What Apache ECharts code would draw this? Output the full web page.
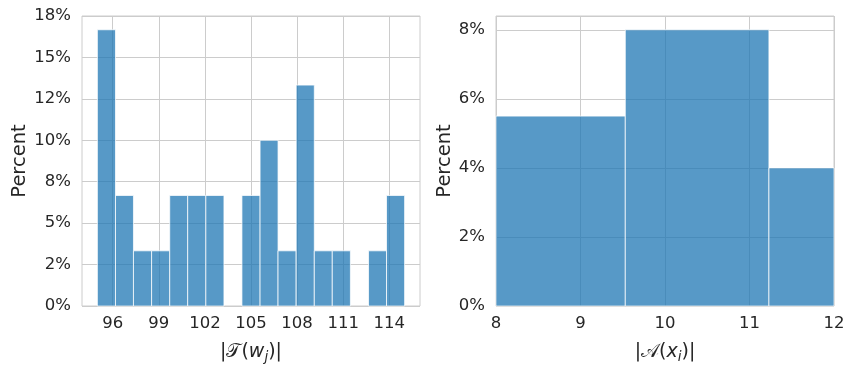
<!DOCTYPE html>
<html><head><meta charset="utf-8">
<script src="https://cdn.jsdelivr.net/npm/echarts@6/dist/echarts.min.js"></script>
<style>html,body{margin:0;padding:0;background:#fff}#c{width:854px;height:374px}</style>
</head><body><div id="c"></div>
<script>
// Left histogram: bin edges and percent heights
const leftEdges = [95.00, 96.18, 97.35, 98.53, 99.71, 100.88, 102.06, 103.24, 104.41, 105.59, 106.76, 107.94, 109.12, 110.29, 111.47, 112.65, 113.82, 115.00];
const leftPercent = [16.67, 6.67, 3.33, 3.33, 6.67, 6.67, 6.67, 0, 6.67, 10.00, 3.33, 13.33, 3.33, 3.33, 0, 3.33, 6.67];
const leftXTicks = [96, 99, 102, 105, 108, 111, 114];
const leftYTicks = [0, 2.5, 5, 7.5, 10, 12.5, 15, 17.5];
const leftYLabels = ['0%', '2%', '5%', '8%', '10%', '12%', '15%', '18%'];

// Right histogram
const rightEdges = [7.83, 9.53, 11.23, 12.93];
const rightPercent = [5.5, 8.0, 4.0];
const rightXTicks = [8, 9, 10, 11, 12];
const rightYLabels = ['0%', '2%', '4%', '6%', '8%'];

const textColor = '#262626';
const gridColor = '#cccccc';
const font = 'DejaVu Sans';

function binsData(edges, vals) {
  return vals.map((v, i) => [edges[i], edges[i + 1], v]);
}

function renderBin(params, api) {
  const x0 = api.value(0), x1 = api.value(1), y = api.value(2);
  if (!(y > 0)) return null;
  const p0 = api.coord([x0, y]);
  const p1 = api.coord([x1, 0]);
  const cs = params.coordSys;
  const rect = echarts.graphic.clipRectByRect(
    {x: p0[0], y: p0[1], width: p1[0] - p0[0], height: p1[1] - p0[1]},
    {x: cs.x, y: cs.y, width: cs.width, height: cs.height});
  if (!rect) return null;
  return {
    type: 'rect', shape: rect,
    style: {fill: '#1f77b4', stroke: '#ffffff', lineWidth: 1, opacity: 0.75}
  };
}

const axisNameRich = {
  a: {fontFamily: font, fontSize: 19, color: textColor},
  c: {fontFamily: font, fontSize: 19, color: textColor},
  i: {fontFamily: font, fontStyle: 'italic', fontSize: 19, color: textColor},
  s: {fontFamily: font, fontStyle: 'italic', fontSize: 13.5, color: textColor, padding: [10, 0, 0, 0]}
};

const chart = echarts.init(document.getElementById('c'), null, {renderer: 'canvas'});
chart.setOption({
  animation: false,
  backgroundColor: '#ffffff',
  grid: [
    {left: 82, top: 16, width: 338, height: 290, show: true, borderColor: gridColor, borderWidth: 1, containLabel: false},
    {left: 496, top: 16, width: 338, height: 290, show: true, borderColor: gridColor, borderWidth: 1, containLabel: false}
  ],
  xAxis: [
    {
      type: 'value', gridIndex: 0, min: 94, max: 116,
      axisLine: {show: false}, axisTick: {show: false, customValues: leftXTicks},
      splitLine: {show: true, lineStyle: {color: gridColor, width: 1}},
      axisLabel: {customValues: leftXTicks, color: textColor, fontFamily: font, fontSize: 16.5, margin: 9},
      name: '{a||}{c|𝒯}{a|(}{i|w}{s|j}{a|)|}', nameLocation: 'middle', nameGap: 34,
      nameTextStyle: {rich: axisNameRich}
    },
    {
      type: 'value', gridIndex: 1, min: 8, max: 12, interval: 1,
      axisLine: {show: false}, axisTick: {show: false},
      splitLine: {show: true, lineStyle: {color: gridColor, width: 1}},
      axisLabel: {color: textColor, fontFamily: font, fontSize: 16.5, margin: 9},
      name: '{a||}{c|𝒜}{a|(}{i|x}{s|i}{a|)|}', nameLocation: 'middle', nameGap: 34,
      nameTextStyle: {rich: axisNameRich}
    }
  ],
  yAxis: [
    {
      type: 'value', gridIndex: 0, min: 0, max: 17.5, interval: 2.5,
      axisLine: {show: false}, axisTick: {show: false},
      splitLine: {show: true, lineStyle: {color: gridColor, width: 1}},
      axisLabel: {color: textColor, fontFamily: font, fontSize: 16.5, margin: 11,
        formatter: v => leftYLabels[Math.round(v / 2.5)]},
      name: 'Percent', nameLocation: 'middle', nameGap: 52,
      nameTextStyle: {color: textColor, fontFamily: font, fontSize: 19.5}
    },
    {
      type: 'value', gridIndex: 1, min: 0, max: 8.4, interval: 2,
      axisLine: {show: false}, axisTick: {show: false},
      splitLine: {show: true, lineStyle: {color: gridColor, width: 1}},
      axisLabel: {color: textColor, fontFamily: font, fontSize: 16.5, margin: 11,
        formatter: v => (v <= 8 ? rightYLabels[Math.round(v / 2)] : '')},
      name: 'Percent', nameLocation: 'middle', nameGap: 40,
      nameTextStyle: {color: textColor, fontFamily: font, fontSize: 19.5}
    }
  ],
  series: [
    {type: 'custom', xAxisIndex: 0, yAxisIndex: 0, renderItem: renderBin,
      encode: {x: [0, 1], y: 2}, data: binsData(leftEdges, leftPercent)},
    {type: 'custom', xAxisIndex: 1, yAxisIndex: 1, renderItem: renderBin,
      encode: {x: [0, 1], y: 2}, data: binsData(rightEdges, rightPercent)}
  ]
});
</script></body></html>
